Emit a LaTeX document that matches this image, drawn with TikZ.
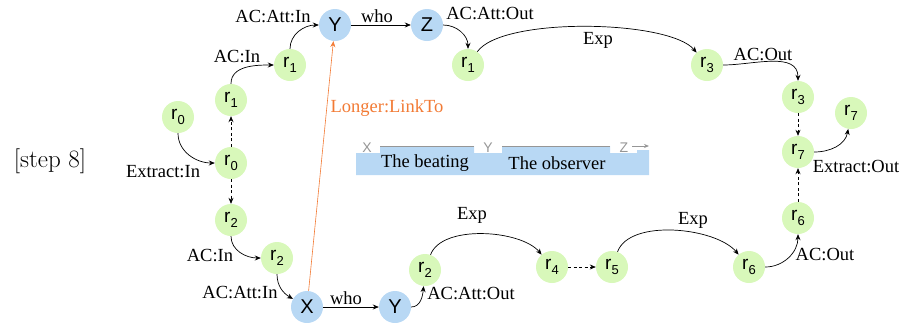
\documentclass[tikz,border=0pt]{standalone}
\usepackage{fontspec}
\newfontfamily\tms{Liberation Serif}
\newfontfamily\ars{Liberation Sans}
\usetikzlibrary{arrows.meta}
\definecolor{gfill}{RGB}{216,248,186}
\definecolor{bfill}{RGB}{184,216,244}
\definecolor{orng}{RGB}{242,122,52}
\definecolor{gline}{RGB}{150,150,150}
\newcommand\rsub[2]{#1\raisebox{-0.45ex}{\fontsize{13}{13}\selectfont #2}}
\begin{document}
\begin{tikzpicture}[x=1pt,y=1pt,
  gnode/.style={circle,fill=gfill,minimum size=32pt,inner sep=0pt,font=\ars\fontsize{19}{20}\selectfont},
  bnode/.style={circle,fill=bfill,minimum size=32pt,inner sep=0pt,font=\ars\fontsize{20}{20}\selectfont},
  lbl/.style={font=\tms\fontsize{18.5}{20}\selectfont,inner sep=0pt},
  glbl/.style={font=\ars\fontsize{14}{14}\selectfont,text=gline,inner sep=0pt},
  arr/.style={-{Stealth[length=6pt,width=5pt]},line width=0.7pt},
  darr/.style={arr,dash pattern=on 3pt off 2.5pt}]
\useasboundingbox (0,-322) rectangle (903,0);
% nodes
\node[gnode] (r0a) at (178,-117) {\rsub{r}{0}};
\node[gnode] (r0b) at (231,-163) {\rsub{r}{0}};
\node[gnode] (r1a) at (231,-100) {\rsub{r}{1}};
\node[gnode] (r1b) at (290,-65) {\rsub{r}{1}};
\node[bnode] (Yt) at (335,-25) {Y};
\node[bnode] (Zt) at (427,-25) {Z};
\node[gnode] (r1c) at (468,-65) {\rsub{r}{1}};
\node[gnode] (r3a) at (707,-65) {\rsub{r}{3}};
\node[gnode] (r3b) at (798,-97) {\rsub{r}{3}};
\node[gnode] (r7b) at (851,-113) {\rsub{r}{7}};
\node[gnode] (r7a) at (798,-152) {\rsub{r}{7}};
\node[gnode] (r6a) at (798,-218) {\rsub{r}{6}};
\node[gnode] (r6b) at (749,-267) {\rsub{r}{6}};
\node[gnode] (r5) at (612,-267) {\rsub{r}{5}};
\node[gnode] (r4) at (552,-267) {\rsub{r}{4}};
\node[gnode] (r2c) at (425,-270) {\rsub{r}{2}};
\node[bnode] (Yb) at (395,-307) {Y};
\node[bnode] (Xb) at (307,-307) {X};
\node[gnode] (r2b) at (277,-258) {\rsub{r}{2}};
\node[gnode] (r2a) at (231,-220) {\rsub{r}{2}};
% edges
\draw[arr] (r0a) to[out=-90,in=180] (r0b);
\draw[darr] (r0b) -- (r1a);
\draw[darr] (r0b) -- (r2a);
\draw[arr] (r1a) to[out=90,in=180] (r1b);
\draw[arr] (r1b) to[out=90,in=180] (Yt);
\draw[arr] (Yt) -- (Zt);
\draw[arr] (Zt) to[out=0,in=90] (r1c);
\draw[arr] (r1c) to[out=55,in=130,looseness=0.5] (r3a);
\draw[arr] (r3a) to[out=0,in=90] (r3b);
\draw[darr] (r3b) -- (r7a);
\draw[arr] (r7a) to[out=0,in=-100] (r7b);
\draw[darr] (r6a) -- (r7a);
\draw[arr] (r6b) to[out=0,in=-90] (r6a);
\draw[arr] (r5) to[out=70,in=130,looseness=0.75] (r6b);
\draw[darr] (r4) -- (r5);
\draw[arr] (r2c) to[out=70,in=130,looseness=0.75] (r4);
\draw[arr] (Yb) to[out=0,in=-95] (r2c);
\draw[arr] (Xb) -- (Yb);
\draw[arr] (r2b) to[out=-90,in=150] (Xb);
\draw[arr] (r2a) to[out=-90,in=180] (r2b);
\draw[arr,draw=orng,line width=0.6pt] (Xb) -- (Yt);
% labels
\node[lbl] (l1) at (273,-17) {AC:Att:In};
\node[lbl] (l2) at (377,-16) {who};
\node[lbl] (l3) at (490,-14) {AC:Att:Out};
\node[lbl] (l4) at (237,-57) {AC:In};
\node[lbl] (l5) at (163,-172) {Extract:In};
\node[lbl,text=orng] (l6) at (387,-108) {Longer:LinkTo};
\node[lbl] (l7) at (598,-40) {Exp};
\node[lbl] (l8) at (763,-55) {AC:Out};
\node[lbl] (l9) at (856,-167) {Extract:Out};
\node[lbl] (l10) at (825,-255) {AC:Out};
\node[lbl] (l11) at (693,-220) {Exp};
\node[lbl] (l12) at (472,-215) {Exp};
\node[lbl] (l13) at (210,-256) {AC:In};
\node[lbl] (l14) at (240,-293) {AC:Att:In};
\node[lbl] (l15) at (346,-298) {who};
\node[lbl] (l16) at (471,-294) {AC:Att:Out};
\node[font=\fontsize{25}{28}\selectfont,inner sep=0pt] (step) at (50,-161) {[step 8]};
% bar
\fill[bfill] (356,-153) -- (380,-153) -- (380,-146) -- (474,-146) -- (474,-153)
  -- (502,-153) -- (502,-146) -- (610,-146) -- (610,-153) -- (637,-153)
  -- (637,-150) -- (649,-150) -- (649,-175) -- (356,-175) -- cycle;
\draw[gline,line width=0.8pt] (380,-146) -- (474,-146);
\draw[gline,line width=0.8pt] (502,-146) -- (610,-146);
\node[glbl] (bx) at (367,-148) {X};
\node[glbl] (by) at (488,-148) {Y};
\node[glbl] (bz) at (624,-148) {Z};
\coordinate (zend) at (649,-146);
\draw[gline,line width=0.8pt,-{Stealth[length=5pt,width=4pt]}] (bz.east) ++(4,2) -- (zend);
\node[lbl] (t1) at (425,-163) {The beating};
\node[lbl] (t2) at (557,-163) {The observer};
\end{tikzpicture}
\end{document}
